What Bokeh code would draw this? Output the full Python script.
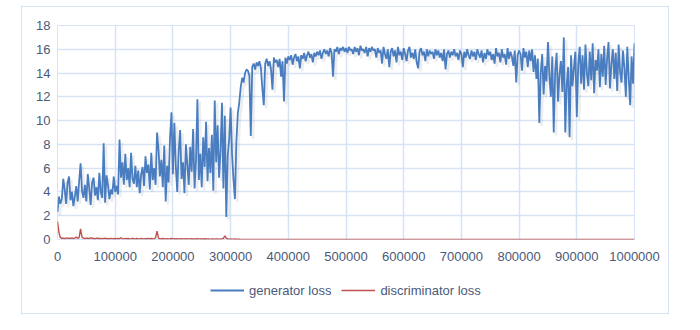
from bokeh.plotting import figure
from bokeh.models import Legend, LegendItem, FixedTicker, Spacer
from bokeh.layouts import row, column
from bokeh.embed import file_html
from bokeh.resources import INLINE

# ---- data ----
gen_step = 2500
gen_iter = list(range(0, 1000001, gen_step))
generator_loss = [
    2.3, 3.6, 3.0, 3.4, 5.1, 4.2, 3.0, 4.8, 5.3, 3.3, 4.0, 2.8, 3.6, 4.5, 3.2, 4.9, 6.4, 4.1, 3.5, 4.6,
    3.2, 5.5, 4.3, 2.9, 4.8, 5.2, 3.7, 4.4, 3.3, 5.6, 4.0, 3.5, 8.1, 3.1, 5.4, 4.6, 3.4, 4.2, 3.8, 5.3,
    4.0, 4.5, 3.8, 8.4, 5.2, 6.5, 4.6, 7.2, 5.0, 6.0, 4.4, 7.3, 5.1, 4.7, 6.2, 4.4, 5.8, 3.9, 5.5, 6.1,
    4.5, 7.0, 5.6, 6.3, 4.2, 7.3, 5.0, 6.0, 4.6, 9.0, 7.6, 5.3, 6.7, 4.4, 7.9, 3.2, 6.2, 4.8, 8.5, 10.7,
    5.5, 9.8, 6.2, 4.0, 7.4, 9.2, 5.1, 6.5, 3.9, 8.0, 6.3, 4.6, 7.8, 5.7, 9.3, 4.3, 6.6, 11.8, 5.0, 7.2,
    4.4, 8.6, 6.1, 9.9, 4.9, 7.7, 5.6, 8.8, 4.1, 11.7, 6.5, 9.6, 5.2, 7.4, 11.5, 4.3, 10.4, 1.9, 7.0, 8.4,
    11.1, 7.2, 5.0, 3.4, 8.2, 10.6, 11.5, 12.8, 13.6, 13.2, 14.0, 14.3, 14.2, 13.8, 8.7, 14.5, 14.8, 14.3, 14.9, 14.6,
    15.0, 14.4, 12.7, 11.3, 14.8, 15.2, 14.6, 15.0, 14.3, 12.6, 15.3, 14.9, 15.1, 14.5, 15.2, 13.7, 15.0, 11.6, 15.3, 14.8,
    15.4, 15.1, 15.5, 14.7, 15.3, 15.6, 15.0, 15.4, 14.4, 15.5, 15.2, 15.7, 15.0, 15.5, 15.8, 15.3, 15.6, 14.9, 15.7, 15.4,
    15.8, 15.5, 15.9, 15.2, 15.7, 16.0, 15.6, 15.9, 15.4, 16.1, 15.7, 13.7, 16.0, 15.8, 16.2, 15.6, 16.1, 15.9, 16.2, 15.8,
    16.1, 15.7, 16.2, 15.9, 16.0, 15.6, 16.2, 15.8, 16.1, 15.5, 16.3, 15.9, 16.0, 15.7, 16.2, 15.4, 16.1, 15.8, 16.2, 15.9,
    16.0, 15.3, 16.1, 15.7, 15.9, 14.8, 16.2, 15.6, 15.2, 16.0, 14.5, 15.8, 16.1, 15.4, 15.9, 14.9, 16.2, 15.5, 15.8, 15.1,
    16.1, 15.6, 15.0, 15.9, 16.2, 15.3, 15.7, 15.2, 16.0, 14.9, 14.4, 15.8, 16.1, 15.5, 15.8, 15.0, 16.0, 15.4, 15.9, 15.6,
    15.8, 15.2, 16.0, 15.5, 15.9, 15.3, 15.7, 15.0, 16.0, 14.3, 15.6, 15.9, 15.3, 15.8, 15.5, 16.0, 15.4, 15.7, 15.1, 15.9,
    15.6, 14.5, 15.8, 15.3, 16.0, 15.5, 15.2, 15.9, 15.4, 15.8, 15.1, 16.0, 15.6, 15.3, 15.9, 14.9, 15.7, 15.2, 16.0, 15.5,
    15.8, 15.1, 15.6, 14.8, 16.1, 15.4, 15.7, 14.9, 16.0, 15.3, 15.6, 14.7, 16.1, 15.2, 15.8, 15.4, 14.6, 15.9, 13.2, 15.5,
    15.9, 15.6, 14.2, 16.1, 15.3, 15.8, 14.5, 15.9, 15.0, 16.0, 14.1, 15.5, 13.5, 15.2, 9.8, 14.0, 15.6, 12.2, 14.6, 13.3,
    16.6, 13.8, 12.0, 15.4, 9.0, 14.1, 15.7, 11.6, 13.9, 15.0, 12.4, 17.0, 9.0, 13.0, 14.5, 8.6, 15.5, 12.9, 14.4, 15.8,
    10.3, 14.7, 16.2, 13.1, 15.5, 12.6, 16.4, 14.0, 12.9, 15.8, 13.4, 16.5, 12.3, 15.1, 14.2, 16.0, 12.8, 15.6, 13.7, 16.3,
    13.0, 15.2, 16.6, 12.7, 14.8, 16.0, 13.5, 15.7, 12.5, 16.4, 14.1, 13.2, 15.9, 14.4, 12.0, 16.2, 13.6, 11.3, 15.4, 13.1,
    16.5,
]

disc_iter = list(range(0, 320001, 2500)) + [
    350000, 400000, 450000, 500000, 550000, 600000, 650000,
    700000, 750000, 800000, 850000, 900000, 950000, 1000000,
]
discriminator_loss = [
    1.5, 0.6, 0.15, 0.1, 0.12, 0.08, 0.1, 0.14, 0.09, 0.1, 0.13, 0.08, 0.12, 0.2, 0.1, 0.15, 0.9, 0.2, 0.1, 0.08,
    0.1, 0.12, 0.07, 0.15, 0.09, 0.1, 0.06, 0.11, 0.08, 0.1, 0.05, 0.09, 0.07, 0.12, 0.06, 0.08, 0.05, 0.1, 0.07, 0.06,
    0.08, 0.05, 0.1, 0.06, 0.15, 0.07, 0.05, 0.09, 0.06, 0.08, 0.05, 0.07, 0.1, 0.06, 0.05, 0.08, 0.06, 0.05, 0.09, 0.06,
    0.05, 0.07, 0.06, 0.1, 0.05, 0.08, 0.06, 0.05, 0.15, 0.7, 0.12, 0.06, 0.05, 0.08, 0.06, 0.05, 0.07, 0.05, 0.06, 0.08,
    0.05, 0.06, 0.04, 0.07, 0.05, 0.04, 0.06, 0.05, 0.04, 0.06, 0.05, 0.04, 0.05, 0.06, 0.04, 0.05, 0.04, 0.06, 0.05, 0.04,
    0.05, 0.04, 0.06, 0.04, 0.05, 0.04, 0.03, 0.05, 0.04, 0.03, 0.05, 0.04, 0.03, 0.04, 0.05, 0.1, 0.3, 0.12, 0.04, 0.03,
    0.04, 0.03, 0.02, 0.05, 0.02, 0.02, 0.02, 0.01, 0.01,
    0.01, 0.01, 0.01, 0.01, 0.01, 0.01, 0.01, 0.01, 0.01, 0.01, 0.01, 0.01, 0.01, 0.01,
]

x_ticks = [0, 100000, 200000, 300000, 400000, 500000, 600000, 700000, 800000, 900000, 1000000]
y_ticks = [0, 2, 4, 6, 8, 10, 12, 14, 16, 18]
series_names = ["generator loss", "discriminator loss"]

# ---- styling ----
BLUE = "#4A7DC0"
RED = "#C0504D"
GRID = "#D6E3F5"
TEXT = "#4A5A78"
FONT = "Liberation Sans"
W = 646

p = figure(
    output_backend="svg", toolbar_location=None,
    frame_width=577, frame_height=214,
    x_range=(0, 1000000), y_range=(0, 18),
    min_border_left=35, min_border_right=34, min_border_top=18, min_border_bottom=33,
    background_fill_color="white", border_fill_color="white",
)
p.outline_line_color = GRID

p.xaxis.ticker = FixedTicker(ticks=x_ticks)
p.yaxis.ticker = FixedTicker(ticks=y_ticks)
p.xaxis.formatter.use_scientific = False
for ax in (p.xaxis[0], p.yaxis[0]):
    ax.axis_line_color = None
    ax.major_tick_line_color = None
    ax.minor_tick_line_color = None
    ax.major_tick_out = 0
    ax.major_tick_in = 0
    ax.minor_tick_out = 0
    ax.major_label_text_font = FONT
    ax.major_label_text_font_size = "13px"
    ax.major_label_text_color = TEXT
p.xaxis.major_label_standoff = 12
p.yaxis.major_label_standoff = 7

p.xgrid.grid_line_color = GRID
p.ygrid.grid_line_color = GRID
p.xgrid.grid_line_width = 1.5
p.ygrid.grid_line_width = 1.5

# soft shadow under the generator line
p.line([x + 4000 for x in gen_iter], [v - 0.25 for v in generator_loss],
       line_color="#9AA3AE", line_alpha=0.2, line_width=2.5)
p.line(gen_iter, generator_loss, line_color=BLUE, line_width=1.8)
p.line(disc_iter, discriminator_loss, line_color=RED, line_width=1.4)

# legend strip below the chart (its ranges keep the series themselves out of view)
lg = figure(
    output_backend="svg", toolbar_location=None,
    width=W, height=41, x_range=(-2, -1), y_range=(-2, -1),
    min_border=0, background_fill_color="white", border_fill_color="white",
)
lg.axis.visible = False
lg.grid.visible = False
lg.outline_line_color = None
g_icon = lg.line(gen_iter, generator_loss, line_color=BLUE, line_width=1.8)
d_icon = lg.line(disc_iter, discriminator_loss, line_color=RED, line_width=1.4)
legend = Legend(
    items=[LegendItem(label=series_names[0], renderers=[g_icon]),
           LegendItem(label=series_names[1], renderers=[d_icon])],
    orientation="horizontal", location=(153, 13),
    label_text_font=FONT, label_text_font_size="13px", label_text_color=TEXT,
    glyph_width=34, label_standoff=5, spacing=10,
    border_line_color=None, background_fill_alpha=0,
    margin=0, padding=4,
)
lg.add_layout(legend, "center")

box = column(p, lg)
box.styles = {"border": "1px solid #D6E3F5"}
layout = column(Spacer(height=6), row(Spacer(width=21), box))

with open("out.html", "w") as f:
    f.write(file_html(layout, INLINE))
